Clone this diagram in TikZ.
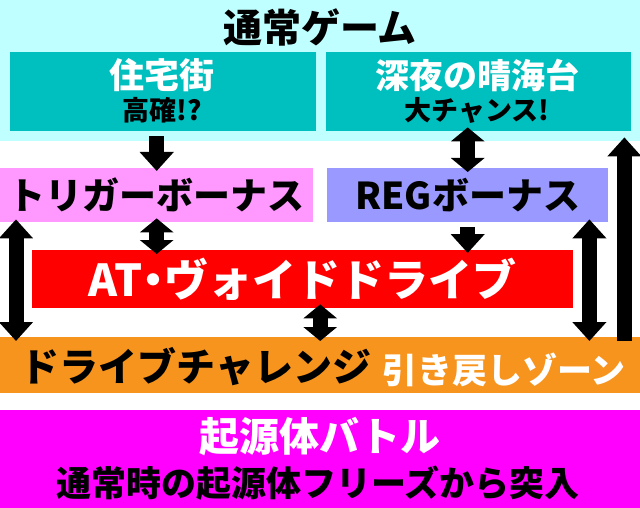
\documentclass[tikz,border=0pt]{standalone}
\usepackage{fontspec}
\setmainfont{Noto Sans CJK JP}[BoldFont={Noto Sans CJK JP Black}]
\usetikzlibrary{arrows.meta,calc}
\definecolor{ngcyan}{HTML}{C0FFFF}
\definecolor{ngteal}{HTML}{00BFBF}
\definecolor{tbpink}{HTML}{FF99FF}
\definecolor{regblue}{HTML}{9999FF}
\definecolor{dcorange}{HTML}{F7941D}
\definecolor{kgmag}{HTML}{FF00FF}
\begin{document}
\begin{tikzpicture}[x=1pt,y=-1pt,
    box/.style={inner sep=0pt,anchor=north west},
    big/.style={font=\bfseries\fontsize{#1}{#1}\selectfont,inner sep=0pt},
    fat/.style={line width=15pt,-{Triangle[width=33pt,length=19pt]},shorten <=5pt,shorten >=-3pt},
    fatboth/.style={line width=15pt,{Triangle[width=33pt,length=19pt]}-{Triangle[width=33pt,length=19pt]},shorten <=-3pt,shorten >=-4pt},
    fatshort/.style={line width=15pt,{Triangle[width=33pt,length=14pt]}-{Triangle[width=33pt,length=14pt]},shorten <=-4pt,shorten >=-4pt}]
    \useasboundingbox (0,0) rectangle (640,508);
    % <<< thông thường
    \node[box,fill=ngcyan,minimum width=640pt,minimum height=141pt] (ng) at (0,0) {};
    \node[big=39] (ngt) at (320,27) {通常ゲーム};
    \node[box,fill=ngteal,minimum width=306pt,minimum height=79pt] (zt) at (10,52) {};
    \node[big=35,white] (zt1) at (162,75) {住宅街};
    \node[big=27] (zt2) at (162,110) {高確!?};
    \node[box,fill=ngteal,minimum width=305pt,minimum height=79pt] (yk) at (326,52) {};
    \node[big=34,white] (yk1) at (477,75) {深夜の晴海台};
    \node[big=27] (yk2) at (477,110) {大チャンス!};
    % <<< bonus
    \node[box,fill=tbpink,minimum width=313pt,minimum height=54pt,big=37] (tb) at (0,168) {トリガーボーナス};
    \node[box,fill=regblue,minimum width=281pt,minimum height=54pt,big=37] (reg) at (327,168) {REGボーナス};
    \node[box,fill=red,minimum width=541pt,minimum height=58pt,big=44,text=white] (at) at (32,250)
        {AT{\addfontfeatures{RawFeature=+palt}・}ヴォイドドライブ};
    % <<< チャレンジ
    \node[box,fill=dcorange,minimum width=640pt,minimum height=56pt] (dc) at (0,337) {};
    \node[big=39] (dc1) at (196,367) {ドライブチャレンジ};
    \node[big=35,white] (dc2) at (504,370) {引き戻しゾーン};
    \node[box,fill=kgmag,minimum width=640pt,minimum height=98pt] (kg) at (0,410) {};
    \node[big=40,white] (kg1) at (320,437) {起源体バトル};
    \node[big=35] (kg2) at (318,483) {通常時の起源体フリーズから突入};
    % <<< mũi tên
    \coordinate (l1) at ($(tb.south west)+(16,0)$);
    \coordinate (r1) at ($(reg.south east)+(-19,0)$);
    \coordinate (r2) at ($(dc.north east)+(-16,0)$);
    \draw[fat] (tb.north |- zt.south) -- (tb.north);
    \draw[fatshort] (reg.north |- yk.south) -- (reg.north);
    \draw[fatshort] (tb.south) -- (tb.south |- at.north);
    \draw[fat] (reg.south) -- (reg.south |- at.north);
    \draw[fatboth] (l1) -- (l1 |- dc.north);
    \draw[fatboth] (r1) -- (r1 |- dc.north);
    \draw[fatshort] (dc.north |- at.south) -- (dc.north);
    \draw[fat,shorten <=-4pt,shorten >=-4pt] (r2) -- (r2 |- ng.south);
\end{tikzpicture}
\end{document}
